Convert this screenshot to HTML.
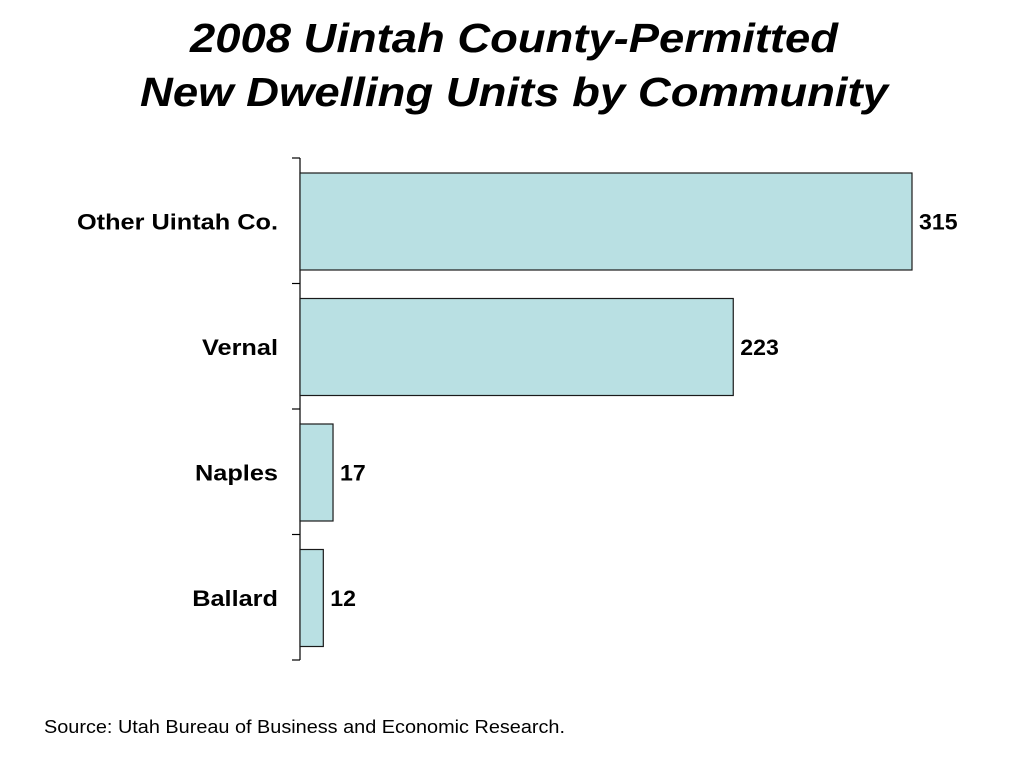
<!DOCTYPE html>
<html><head><meta charset="utf-8"><style>
body{margin:0;width:1024px;height:768px;background:#fff;overflow:hidden;font-family:"Liberation Sans",Arial,sans-serif}
</style></head><body>
<svg id="chart" width="1024" height="768" xmlns="http://www.w3.org/2000/svg">
<text x="190" y="52" textLength="648" lengthAdjust="spacingAndGlyphs" font-size="41" font-weight="bold" font-style="italic" font-family="Liberation Sans, sans-serif">2008 Uintah County-Permitted</text>
<text x="140" y="106" textLength="748" lengthAdjust="spacingAndGlyphs" font-size="41" font-weight="bold" font-style="italic" font-family="Liberation Sans, sans-serif">New Dwelling Units by Community</text>
<text x="44" y="733" textLength="521" lengthAdjust="spacingAndGlyphs" font-size="18" font-family="Liberation Sans, sans-serif">Source: Utah Bureau of Business and Economic Research.</text>
<g id="plot"></g>
</svg>
<script>
const categories = ["Other Uintah Co.", "Vernal", "Naples", "Ballard"];
const values = [315, 223, 17, 12];
const valueLabels = ["315", "223", "17", "12"];

const NS = "http://www.w3.org/2000/svg";
const plot = document.getElementById("plot");
const x0 = 300, pxPerUnit = (912 - 300) / 315;
const yTop = 158, yBot = 660;
const band = (yBot - yTop) / categories.length;
const widthFactor = 1.26;
function xScale(v){ return x0 + v * pxPerUnit; }
function yBand(i){ return yTop + i * band; }
function mk(tag, attrs){ const e = document.createElementNS(NS, tag); for (const k in attrs) e.setAttribute(k, attrs[k]); plot.appendChild(e); return e; }

const axis = mk("line", {x1:x0, y1:yTop, x2:x0, y2:yBot, stroke:"#000", "stroke-width":1.2});


for (let i = 0; i <= categories.length; i++) {
  const t = mk("line", {x1:292, y1:yBand(i), x2:x0, y2:yBand(i), stroke:"#000", "stroke-width":1.2});
  
  
}
categories.forEach((c, i) => {
  const top = yBand(i) + 15, h = band - 28.5;
  const r = mk("rect", {x:x0, y:top, width:xScale(values[i]) - x0, height:h, fill:"#b9e0e3", stroke:"#1a1a1a", "stroke-width":1.2});
  
  
  const cy = top + h / 2 + 8;
  const lbl = mk("text", {x:278, y:cy, "text-anchor":"end", "font-size":22, "font-weight":"bold", "font-family":"Liberation Sans, sans-serif"});
  lbl.textContent = c;
  
  
  const vl = mk("text", {x:xScale(values[i]) + 7, y:cy, "font-size":22, "font-weight":"bold", "font-family":"Liberation Sans, sans-serif"});
  vl.textContent = valueLabels[i];
  
  
  [lbl, vl].forEach(el => {
    const w = el.getComputedTextLength() * (el === lbl ? 1.15 : 1.05);
    el.setAttribute('textLength', w);
    el.setAttribute('lengthAdjust', 'spacingAndGlyphs');
  });
});
</script>
</body></html>
